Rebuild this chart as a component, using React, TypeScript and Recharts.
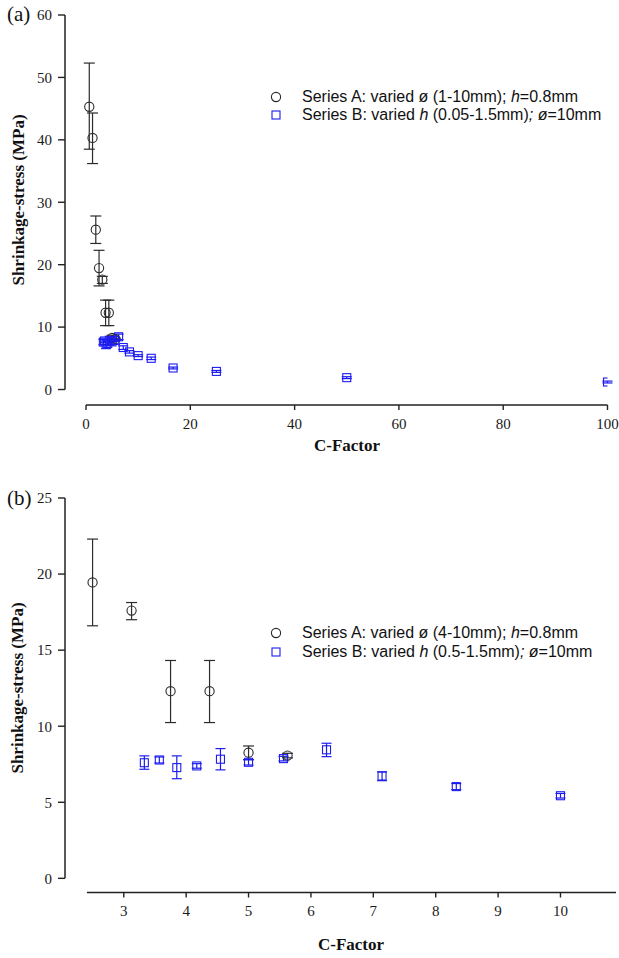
import React from 'react';
import { ScatterChart, Scatter, XAxis, YAxis, ErrorBar, ReferenceLine } from 'recharts';

// ---- Data ----
// Series A: varied diameter, h = 0.8 mm
const seriesA_C = [0.625, 1.25, 1.875, 2.5, 3.125, 3.75, 4.375, 5.0, 5.625];
const seriesA_stress = [45.3, 40.3, 25.6, 19.45, 17.6, 12.3, 12.3, 8.26, 8.07];
const seriesA_low = [38.5, 36.2, 23.4, 16.6, 17.0, 10.24, 10.24, 7.8, 7.92];
const seriesA_high = [52.3, 44.3, 27.8, 22.3, 18.13, 14.32, 14.32, 8.7, 8.22];

// Series B: varied h, diameter = 10 mm
const seriesB_C = [3.33, 3.57, 3.85, 4.17, 4.55, 5.0, 5.56, 6.25, 7.14, 8.33, 10, 12.5, 16.7, 25, 50, 100];
const seriesB_stress = [7.6, 7.78, 7.28, 7.39, 7.83, 7.63, 7.87, 8.45, 6.73, 6.03, 5.43, 5.0, 3.45, 2.9, 1.9, 1.2];
const seriesB_low = [7.17, 7.58, 6.55, 7.24, 7.13, 7.45, 7.72, 8.0, 6.42, 5.83, 5.28, 4.8, 3.3, 2.75, 1.75, 1.05];
const seriesB_high = [8.05, 7.98, 8.05, 7.54, 8.53, 7.8, 8.02, 8.88, 7.0, 6.23, 5.58, 5.2, 3.6, 3.05, 2.05, 1.35];

// Tick labels
const xTicksA = [0, 20, 40, 60, 80, 100];
const yTicksA = [0, 10, 20, 30, 40, 50, 60];
const xTicksB = [3, 4, 5, 6, 7, 8, 9, 10];
const yTicksB = [0, 5, 10, 15, 20, 25];

const legendA = {
  a: ['Series A: varied ø (1-10mm); ', 'h', '=0.8mm'],
  b: ['Series B: varied ', 'h', ' (0.05-1.5mm)', '; ø', '=10mm'],
};
const legendB = {
  a: ['Series A: varied ø (4-10mm); ', 'h', '=0.8mm'],
  b: ['Series B: varied ', 'h', ' (0.5-1.5mm)', '; ø', '=10mm'],
};

const yTitle = 'Shrinkage-stress (MPa)';
const xTitle = 'C-Factor';

// ---- helpers ----
const build = (cs: number[], ys: number[], lo: number[], hi: number[], xMin: number, xMax: number) =>
  cs
    .map((c, i) => ({ x: c, y: ys[i], err: [ys[i] - lo[i], hi[i] - ys[i]] }))
    .filter((d) => d.x >= xMin && d.x <= xMax);

const BLACK = '#2b2b2b';
const BLUE = '#1c1cf2';
const SERIF = '"Liberation Serif", "Times New Roman", serif';
const SANS = '"Liberation Sans", Arial, sans-serif';

const CircleShape = (p: any) => (
  <circle cx={p.cx} cy={p.cy} r={4.6} fill="none" stroke={BLACK} strokeWidth={1.1} />
);
const SquareShape = (p: any) => (
  <rect x={p.cx - 4} y={p.cy - 4} width={8} height={8} fill="none" stroke={BLUE} strokeWidth={1.1} />
);

type PanelProps = {
  top: number;
  height: number;
  xDomain: [number, number];
  yDomain: [number, number];
  xTicks: number[];
  yTicks: number[];
  xLineStart: number;
  xLineEnd: number;
  margin: { top: number; right: number; bottom: number; left: number };
  dataA: any[];
  dataB: any[];
};

function Panel(p: PanelProps) {
  const tickStyle = { fontFamily: SERIF, fontSize: 15, fill: '#1a1a1a' };
  return (
    <div style={{ position: 'absolute', left: 0, top: p.top }}>
      <ScatterChart width={619} height={p.height} margin={p.margin}>
        <XAxis
          type="number"
          dataKey="x"
          domain={p.xDomain}
          ticks={p.xTicks}
          allowDataOverflow
          axisLine={false}
          tickLine={{ stroke: '#222', strokeWidth: 1.4 }}
          tickSize={5}
          tickMargin={8}
          height={40}
          tick={tickStyle}
          interval={0}
        />
        <YAxis
          type="number"
          dataKey="y"
          domain={p.yDomain}
          ticks={p.yTicks}
          allowDataOverflow
          axisLine={false}
          tickLine={{ stroke: '#222', strokeWidth: 1.4 }}
          tickSize={7}
          tickMargin={6}
          width={45}
          tick={tickStyle}
          interval={0}
        />
        <ReferenceLine
          segment={[
            { x: p.xDomain[0], y: 0 },
            { x: p.xDomain[0], y: p.yTicks[p.yTicks.length - 1] },
          ]}
          stroke="#222"
          strokeWidth={1.5}
          ifOverflow="visible"
        />
        <ReferenceLine
          segment={[
            { x: p.xLineStart, y: p.yDomain[0] },
            { x: p.xLineEnd, y: p.yDomain[0] },
          ]}
          stroke="#222"
          strokeWidth={1.5}
          ifOverflow="visible"
        />
        <Scatter data={p.dataA} shape={CircleShape} isAnimationActive={false}>
          <ErrorBar dataKey="err" direction="y" width={5.5} stroke={BLACK} strokeWidth={1.2} isAnimationActive={false} />
        </Scatter>
        <Scatter data={p.dataB} shape={SquareShape} isAnimationActive={false}>
          <ErrorBar dataKey="err" direction="y" width={5} stroke={BLUE} strokeWidth={1.2} isAnimationActive={false} />
        </Scatter>
      </ScatterChart>
    </div>
  );
}

function LegendRows({ left, top, gap, rows }: { left: number; top: number; gap: number; rows: { a: string[]; b: string[] } }) {
  const rowStyle: React.CSSProperties = {
    position: 'absolute',
    left: 0,
    height: 18,
    lineHeight: '18px',
    whiteSpace: 'nowrap',
    fontFamily: SANS,
    fontSize: 16,
    color: '#111',
  };
  return (
    <div style={{ position: 'absolute', left, top }}>
      <div style={{ ...rowStyle, top: 0 }}>
        <svg width={14} height={18} style={{ position: 'absolute', left: -7, top: 0 }}>
          <circle cx={7} cy={9} r={4.6} fill="none" stroke={BLACK} strokeWidth={1.1} />
        </svg>
        <span style={{ position: 'absolute', left: 26 }}>
          {rows.a[0]}
          <i>{rows.a[1]}</i>
          {rows.a[2]}
        </span>
      </div>
      <div style={{ ...rowStyle, top: gap }}>
        <svg width={14} height={18} style={{ position: 'absolute', left: -7, top: 0 }}>
          <rect x={3} y={5} width={8} height={8} fill="none" stroke={BLUE} strokeWidth={1.1} />
        </svg>
        <span style={{ position: 'absolute', left: 26 }}>
          {rows.b[0]}
          <i>{rows.b[1]}</i>
          {rows.b[2]}
          <i>{rows.b[3]}</i>
          {rows.b[4]}
        </span>
      </div>
    </div>
  );
}

function YTitle({ cx, cy }: { cx: number; cy: number }) {
  return (
    <div
      style={{
        position: 'absolute',
        left: cx - 150,
        top: cy - 11,
        width: 300,
        height: 22,
        lineHeight: '22px',
        textAlign: 'center',
        transform: 'rotate(-90deg)',
        fontFamily: SERIF,
        fontWeight: 'bold',
        fontSize: 17,
        color: '#111',
      }}
    >
      {yTitle}
    </div>
  );
}

function XTitle({ cx, cy }: { cx: number; cy: number }) {
  return (
    <div
      style={{
        position: 'absolute',
        left: cx - 100,
        top: cy - 11,
        width: 200,
        height: 22,
        lineHeight: '22px',
        textAlign: 'center',
        fontFamily: SERIF,
        fontWeight: 'bold',
        fontSize: 17,
        color: '#111',
      }}
    >
      {xTitle}
    </div>
  );
}

function PanelLabel({ text, left, cy }: { text: string; left: number; cy: number }) {
  return (
    <div
      style={{
        position: 'absolute',
        left,
        top: cy - 12,
        height: 24,
        lineHeight: '24px',
        fontFamily: SERIF,
        fontSize: 21,
        color: '#111',
      }}
    >
      {text}
    </div>
  );
}

export default function App() {
  // panel (a): plot left 65, right 607.5; top 15 (y=60), bottom 405 (x-axis line)
  const dataAa = build(seriesA_C, seriesA_stress, seriesA_low, seriesA_high, -5, 101);
  const dataBa = build(seriesB_C, seriesB_stress, seriesB_low, seriesB_high, -5, 101);
  // panel (b)
  const dataAb = build(seriesA_C, seriesA_stress, seriesA_low, seriesA_high, 2.06, 10.89);
  const dataBb = build(seriesB_C, seriesB_stress, seriesB_low, seriesB_high, 2.06, 10.89);

  return (
    <div style={{ position: 'absolute', left: 0, top: 0, width: 619, height: 958, background: '#fff', overflow: 'hidden' }}>
      <Panel
        top={0}
        height={470}
        xDomain={[-4.03, 100]}
        yDomain={[-2.48, 60]}
        xTicks={xTicksA}
        yTicks={yTicksA}
        xLineStart={0}
        xLineEnd={100}
        margin={{ top: 15, right: 11.5, bottom: 25, left: 20 }}
        dataA={dataAa}
        dataB={dataBa}
      />
      <Panel
        top={470}
        height={488}
        xDomain={[2.058, 10.89]}
        yDomain={[-0.93, 25]}
        xTicks={xTicksB}
        yTicks={yTicksB}
        xLineStart={2.41}
        xLineEnd={10.89}
        margin={{ top: 28, right: 3, bottom: 25.5, left: 20 }}
        dataA={dataAb}
        dataB={dataBb}
      />
      <PanelLabel text="(a)" left={7} cy={14} />
      <PanelLabel text="(b)" left={7} cy={498} />
      <YTitle cx={19} cy={200} />
      <YTitle cx={18} cy={688} />
      <XTitle cx={347} cy={446} />
      <XTitle cx={351} cy={945} />
      <LegendRows left={276} top={88} gap={18} rows={legendA} />
      <LegendRows left={276} top={624} gap={19} rows={legendB} />
    </div>
  );
}
